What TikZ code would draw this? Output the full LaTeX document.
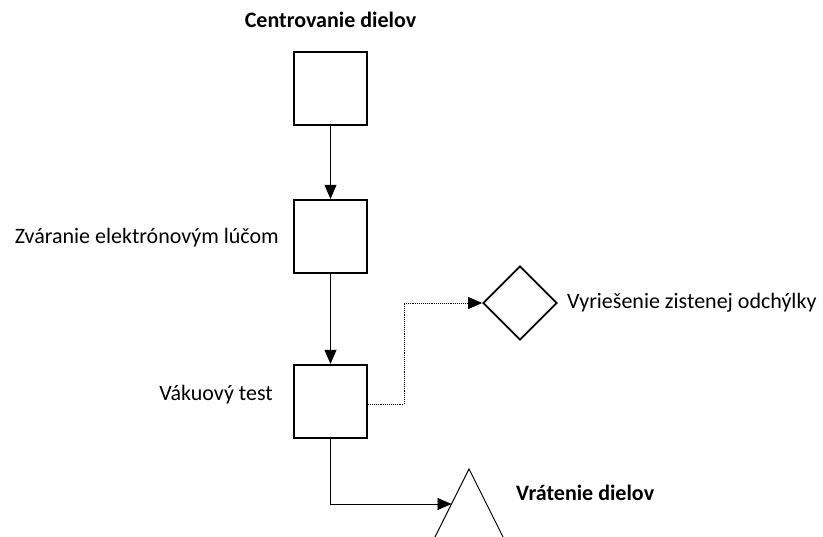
\documentclass[tikz,border=0pt]{standalone}
\usepackage{fontspec}
\setmainfont{Carlito}
\usetikzlibrary{arrows.meta,shapes.geometric}
\begin{document}
\begin{tikzpicture}[x=1pt,y=-1pt,
  every node/.style={font=\fontsize{22}{26}\selectfont},
  opbox/.style={draw,line width=2.2pt,minimum width=73pt,minimum height=73pt,inner sep=0pt},
  decide/.style={draw,diamond,aspect=1,line width=1.8pt,minimum width=74pt,minimum height=74pt,inner sep=0pt},
  flow/.style={line width=0.9pt,-{Triangle[length=14pt,width=12pt]}},
  lbl/.style={anchor=east,inner sep=0pt},
  rlbl/.style={anchor=west,inner sep=0pt},
  bold/.style={font=\fontsize{22}{26}\selectfont\bfseries}]
\useasboundingbox (0,0) rectangle (823,537);
\clip (0,0) rectangle (823,537);

% process boxes
\node[opbox] (centr) at (330.5,88.5) {};
\node[opbox] (zvar)  at (330.5,236.5) {};
\node[opbox] (vak)   at (330.5,401.5) {};
\node[decide] (riesenie) at (520,303) {};

% return triangle (base runs off the page)
\coordinate (apex) at (469,469);
\draw[line width=0.9pt] (apex) -- ++(-50,100) -- ++(100,0) -- cycle;
\coordinate (vratIn) at (451.5,504);

% labels
\node[bold] (tCentr) at (330.5,20) {Centrovanie dielov};
\node[lbl] (tZvar) at (279,238) {Zváranie elektrónovým lúčom};
\node[lbl] (tVak) at (273,395) {Vákuový test};
\node[rlbl] (tRies) at (567,303) {Vyriešenie zistenej odchýlky};
\node[rlbl,bold] (tVrat) at (516,493) {Vrátenie dielov};

% connectors
\draw[flow] (centr.south) -- (zvar.north);
\draw[flow] (zvar.south) -- (vak.north);
\draw[flow,densely dotted,line width=0.8pt] ([yshift=-2.5pt]vak.east) -| (404,303) -- (riesenie.west);
\draw[flow] (vak.south) |- (vratIn);
\end{tikzpicture}
\end{document}
